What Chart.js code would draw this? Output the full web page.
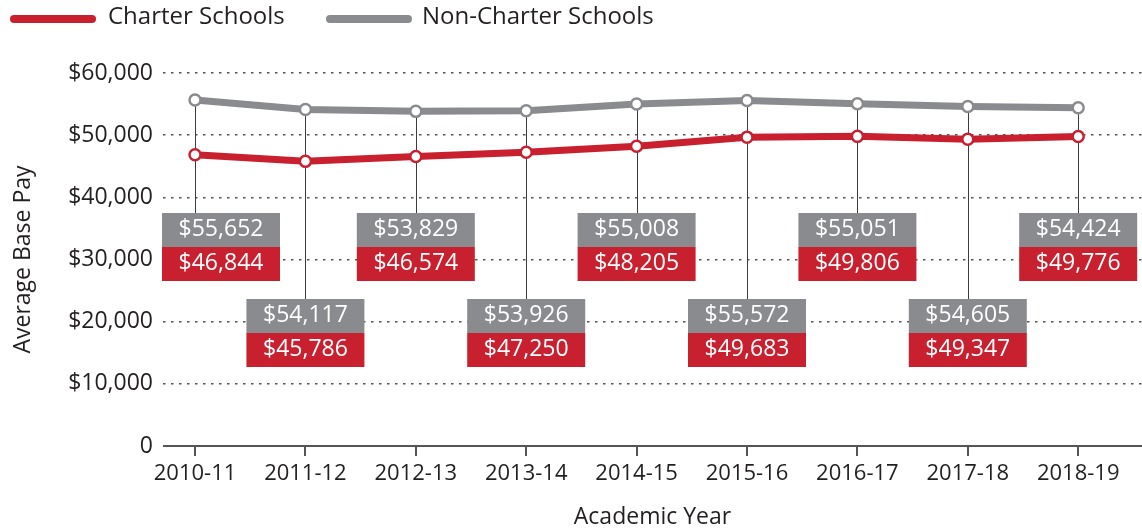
<!DOCTYPE html>
<html>
<head>
<meta charset="utf-8">
<script src="https://cdn.jsdelivr.net/npm/chart.js@4/dist/chart.umd.min.js"></script>
<style>
  html, body { margin: 0; padding: 0; background: #ffffff; }
  #wrap { width: 1142px; height: 531px; position: relative; }
</style>
</head>
<body>
<div id="wrap"><canvas id="c" width="1142" height="531"></canvas></div>
<script>
const categories = ["2010-11","2011-12","2012-13","2013-14","2014-15","2015-16","2016-17","2017-18","2018-19"];
const charterValues = [46844, 45786, 46574, 47250, 48205, 49683, 49806, 49347, 49776];
const nonCharterValues = [55652, 54117, 53829, 53926, 55008, 55572, 55051, 54605, 54424];
const yTickValues = [0, 10000, 20000, 30000, 40000, 50000, 60000];
const seriesNames = ["Charter Schools", "Non-Charter Schools"];

const RED = "#c8202f";
const GRAY = "#8a8b8e";
const TEXT = "#231f20";
const FONT = "'Open Sans', 'Noto Sans', sans-serif";

function fmt(v) { return "$" + v.toLocaleString("en-US"); }

const labelPlugin = {
  id: "boxLabels",
  beforeDatasetsDraw(chart) {
    const ctx = chart.ctx;
    const xs = chart.scales.x, ys = chart.scales.y;
    ctx.save();
    ctx.strokeStyle = "#3c3c3c";
    ctx.lineWidth = 1;
    categories.forEach((c, i) => {
      const x = Math.round(xs.getPixelForValue(i)) + 0.5;
      const top = (i % 2 === 0) ? 213 : 299;
      ctx.beginPath();
      ctx.moveTo(x, ys.getPixelForValue(nonCharterValues[i]));
      ctx.lineTo(x, top);
      ctx.stroke();
    });
    ctx.restore();
  },
  afterDatasetsDraw(chart) {
    const ctx = chart.ctx;
    const xs = chart.scales.x;
    const area = chart.chartArea;
    const W = 118, H = 34;
    ctx.save();
    ctx.font = "23px " + FONT;
    ctx.textAlign = "center";
    ctx.textBaseline = "middle";
    categories.forEach((c, i) => {
      const px = xs.getPixelForValue(i);
      let left = px - W / 2;
      if (left < area.left - 1) left = area.left - 1;
      if (left + W > area.right) left = area.right - W;
      const top = (i % 2 === 0) ? 213 : 299;
      ctx.fillStyle = GRAY;
      ctx.fillRect(left, top, W, H);
      ctx.fillStyle = RED;
      ctx.fillRect(left, top + H, W, H);
      ctx.fillStyle = "#ffffff";
      ctx.fillText(fmt(nonCharterValues[i]), left + W / 2, top + H / 2 - 1);
      ctx.fillText(fmt(charterValues[i]), left + W / 2, top + H + H / 2 - 1);
    });
    ctx.restore();
  },
  afterDraw(chart) {
    const ctx = chart.ctx;
    ctx.save();
    ctx.font = "24px " + FONT;
    ctx.textBaseline = "middle";
    ctx.textAlign = "left";
    ctx.lineCap = "round";
    const items = [
      { color: RED, x1: 14, x2: 92, tx: 108, label: seriesNames[0] },
      { color: GRAY, x1: 330, x2: 408, tx: 422, label: seriesNames[1] }
    ];
    items.forEach(it => {
      ctx.strokeStyle = it.color;
      ctx.lineWidth = 8;
      ctx.beginPath();
      ctx.moveTo(it.x1, 19);
      ctx.lineTo(it.x2, 19);
      ctx.stroke();
      ctx.fillStyle = TEXT;
      ctx.fillText(it.label, it.tx, 17);
    });
    const area = chart.chartArea;
    ctx.strokeStyle = "#555555";
    ctx.lineWidth = 2;
    ctx.lineCap = "butt";
    ctx.beginPath();
    ctx.moveTo(area.left, area.bottom);
    ctx.lineTo(area.right, area.bottom);
    ctx.stroke();
    ctx.restore();
  }
};

const ctx = document.getElementById("c").getContext("2d");
new Chart(ctx, {
  type: "line",
  data: {
    datasets: [
      {
        label: seriesNames[1],
        data: nonCharterValues.map((v, i) => ({ x: i, y: v })),
        borderColor: GRAY,
        borderWidth: 7,
        pointRadius: 5.5,
        pointBorderWidth: 2.5,
        pointBackgroundColor: "#ffffff",
        pointBorderColor: GRAY,
        tension: 0
      },
      {
        label: seriesNames[0],
        data: charterValues.map((v, i) => ({ x: i, y: v })),
        borderColor: RED,
        borderWidth: 7,
        pointRadius: 5.5,
        pointBorderWidth: 2.5,
        pointBackgroundColor: "#ffffff",
        pointBorderColor: RED,
        tension: 0
      }
    ]
  },
  options: {
    responsive: false,
    animation: false,
    layout: { autoPadding: false, padding: { top: 73, left: 0, right: 0, bottom: 0 } },
    plugins: { legend: { display: false }, tooltip: { enabled: false } },
    scales: {
      x: {
        type: "linear",
        min: -0.29,
        max: 8.578,
        afterFit(s) { s.height = 85; s.paddingLeft = 0; s.paddingRight = 0; },
        afterBuildTicks(s) { s.ticks = categories.map((c, i) => ({ value: i })); },
        ticks: {
          callback: (v) => categories[v],
          color: TEXT,
          font: { family: FONT, size: 22 },
          padding: 5,
          maxRotation: 0,
          autoSkip: false
        },
        grid: { drawOnChartArea: false, drawTicks: true, tickLength: 10, color: "#555555", lineWidth: 2 },
        border: { display: false },
        title: {
          display: true,
          text: "Academic Year",
          color: TEXT,
          font: { family: FONT, size: 23 },
          padding: { top: 0, bottom: 0 }
        }
      },
      y: {
        min: 0,
        max: 60000,
        afterFit(s) { s.width = 163; s.paddingTop = 0; s.paddingBottom = 0; },
        afterBuildTicks(s) { s.ticks = yTickValues.map(v => ({ value: v })); },
        ticks: {
          callback: (v) => v === 0 ? "0" : fmt(v),
          color: TEXT,
          font: { family: FONT, size: 23 },
          padding: 10
        },
        grid: {
          drawTicks: false,
          color: (c) => c.tick && c.tick.value === 0 ? "rgba(0,0,0,0)" : "#555555",
          lineWidth: 1.5
        },
        border: { display: false, dash: [2.5, 5.5] },
        title: {
          display: true,
          text: "Average Base Pay",
          color: TEXT,
          font: { family: FONT, size: 23 },
          padding: { top: 10, bottom: 0 }
        }
      }
    }
  },
  plugins: [labelPlugin]
});
</script>
</body>
</html>
